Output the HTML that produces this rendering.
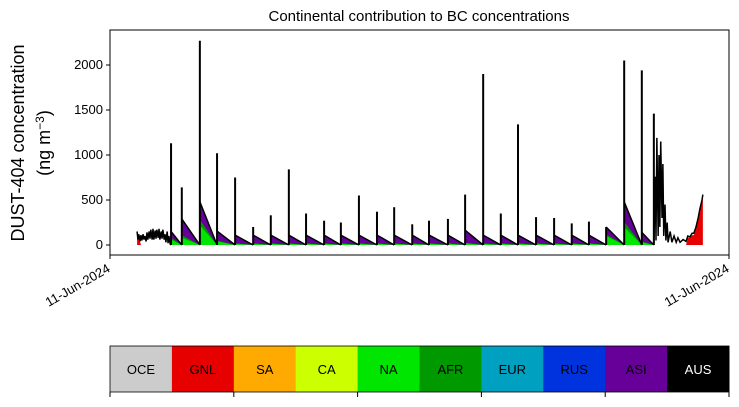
<!DOCTYPE html>
<html><head><meta charset="utf-8"><style>
body{margin:0;background:#fff;font-family:"Liberation Sans",sans-serif}
svg text{font-family:"Liberation Sans",sans-serif}
</style></head><body>
<svg id="c" width="739" height="402" xmlns="http://www.w3.org/2000/svg">
<text x="419" y="21" font-size="15" text-anchor="middle">Continental contribution to BC concentrations</text>
<g>
<text transform="translate(24,143) rotate(-90)" font-size="18" text-anchor="middle">DUST-404 concentration</text>
<text transform="translate(50,143) rotate(-90)" font-size="18" text-anchor="middle">(ng m<tspan dy="-6" font-size="12">−3</tspan><tspan dy="6">)</tspan></text>
</g>
<g id="plot"></g>
<rect x="110" y="30" width="619" height="225" fill="none" stroke="#000" stroke-width="1"/>
<g id="axes"></g>
<g id="legend"></g>
</svg>
<script>
const yTicks=[0,500,1000,1500,2000];
const spikeT=[142,167,209,249,291,333,374,416,456,498,537,579,621,661,703,742,786,826,868,909,949,991,1033,1074,1114,1154,1196,1237,1265];
const spikeV=[1130,640,2270,1020,750,200,330,840,350,270,250,550,370,420,230,270,290,560,1900,350,1340,310,300,240,260,200,2050,1940,1460];
const segT=[142,167,209,249,291,333,374,416,456,498,537,579,621,661,703,742,786,826,868,909,949,991,1033,1074,1114,1154,1196,1237,1265];
const segGreen=[60,80,220,40,15,15,15,15,15,15,15,15,15,15,15,15,15,20,15,15,15,15,15,15,15,100,200,30];
const segAfr=[20,30,60,10,5,5,5,5,5,5,5,5,5,5,5,5,5,5,5,5,5,5,5,5,5,20,60,10];
const segAsi=[70,180,200,105,90,90,90,90,90,90,90,90,90,90,90,90,90,140,90,90,90,90,90,90,90,80,220,100];
const noiseT=[63,65,67,70,72,74,77,79,81,84,86,88,91,93,95,98,100,102,105,107,109,112,114,116,119,121,123,126,128,130,133,135,137,140,142];
const noiseV=[150,60,120,40,110,50,120,60,100,40,140,60,150,70,170,60,180,60,160,70,170,80,180,60,150,70,170,60,120,30,150,20,100,10,0];
const tailT=[1265,1268,1270,1272,1275,1277,1279,1281,1284,1286,1288,1291,1293,1296,1298,1303,1307,1312,1317,1321,1326,1333,1340,1344,1349,1354,1358,1363,1368,1372,1377,1379];
const tailV=[0,760,50,1190,100,1000,200,1150,300,900,100,450,50,250,30,150,30,100,30,80,30,60,40,100,90,130,130,200,300,400,500,560];
const tailRed=[0,0,0,0,0,0,0,0,0,0,0,0,0,0,0,0,0,0,0,0,0,0,0,80,80,110,110,180,280,380,480,530];
const catNames=["OCE","GNL","SA","CA","NA","AFR","EUR","RUS","ASI","AUS"];
const catColors=["#cccccc","#e60000","#ffaa00","#ccff00","#00e600","#009900","#00a0c0","#0033dd","#660099","#000000"];
const X=t=>110+t/2.326, Y=v=>245-v*0.09;
const NS="http://www.w3.org/2000/svg";
function mk(tag,at,parent){const e=document.createElementNS(NS,tag);for(const k in at)e.setAttribute(k,at[k]);parent.appendChild(e);return e;}
const plot=document.getElementById('plot'),axes=document.getElementById('axes'),leg=document.getElementById('legend');
for(let i=0;i<segGreen.length;i++){
  const x0=X(segT[i]),x1=X(segT[i+1]);
  const g=segGreen[i],a=g+segAfr[i],s=a+segAsi[i];
  const p1=mk('polygon',{points:`${x0},${Y(0)} ${x0},${Y(s)} ${x1},${Y(0)}`,fill:'#660099'},plot);
  
  
  const p2=mk('polygon',{points:`${x0},${Y(0)} ${x0},${Y(a)} ${x1},${Y(0)}`,fill:'#009900'},plot);
  
  
  const p3=mk('polygon',{points:`${x0},${Y(0)} ${x0},${Y(g)} ${x1},${Y(0)}`,fill:'#00e600'},plot);
  
  
  const l=mk('line',{x1:x0,y1:Y(s),x2:x1,y2:Y(0),stroke:'#000','stroke-width':1.5},plot);
  
  
}
const st=mk('polygon',{points:`${X(63)},${Y(0)} ${X(63)},${Y(140)} ${X(72)},${Y(0)}`,fill:'#e60000'},plot);


let rp=tailT.map((t,i)=>`${X(t)},${Y(tailRed[i])}`).join(' ');
const tr=mk('polygon',{points:`${X(tailT[0])},${Y(0)} ${rp} ${X(tailT[tailT.length-1])},${Y(0)}`,fill:'#e60000'},plot);


const n1=mk('polyline',{points:noiseT.map((t,i)=>`${X(t)},${Y(noiseV[i])}`).join(' '),fill:'none',stroke:'#000','stroke-width':1.5},plot);


const n2=mk('polyline',{points:tailT.map((t,i)=>`${X(t)},${Y(tailV[i])}`).join(' '),fill:'none',stroke:'#000','stroke-width':1.5},plot);


for(let i=0;i<spikeT.length;i++){
  const l=mk('line',{x1:X(spikeT[i]),y1:Y(0),x2:X(spikeT[i]),y2:Y(spikeV[i]),stroke:'#000','stroke-width':2},plot);
  
  
}
yTicks.forEach(v=>{
  const l=mk('line',{x1:106,x2:110,y1:Y(v),y2:Y(v),stroke:'#000'},axes);
  
  
  const t=mk('text',{x:103,y:Y(v)+4,'font-size':13,'text-anchor':'end'},axes);
  t.textContent=v;
  
  
});
[110,729].forEach(x=>{
  const l=mk('line',{x1:x,x2:x,y1:255,y2:259,stroke:'#000'},axes);
  
  
  const t=mk('text',{transform:`translate(${x+1},${271}) rotate(-30)`,'font-size':13,'text-anchor':'end'},axes);
  t.textContent='11-Jun-2024';
  
  
});
const cw=619/catNames.length;
catNames.forEach((n,i)=>{
  const r=mk('rect',{x:110+i*cw,y:346,width:cw+0.5,height:46,fill:catColors[i]},leg);
  
  
  const t=mk('text',{x:110+i*cw+cw/2,y:374,'font-size':13,'text-anchor':'middle',fill:n==='AUS'?'#fff':'#000'},leg);
  t.textContent=n;
  
  
});
for(let k=0;k<=5;k++){
  const l=mk('line',{x1:110+k*cw*2,x2:110+k*cw*2,y1:392,y2:397,stroke:'#000'},leg);
  
  
}
const fr=mk('rect',{x:110,y:346,width:619,height:46,fill:'none',stroke:'#000','stroke-width':0.8},leg);


</script>
</body></html>
